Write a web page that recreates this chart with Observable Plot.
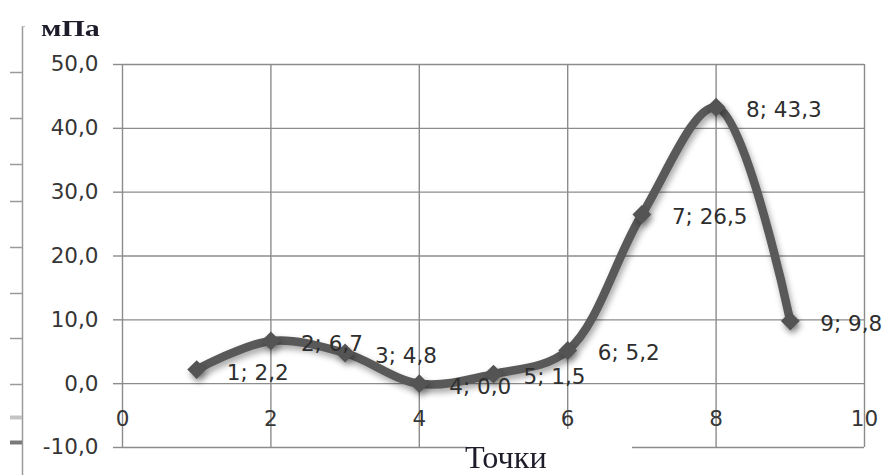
<!DOCTYPE html>
<html>
<head>
<meta charset="utf-8">
<script src="https://cdn.jsdelivr.net/npm/d3@7"></script>
<script src="https://cdn.jsdelivr.net/npm/@observablehq/plot@0.6"></script>
<style>
  html, body { margin: 0; padding: 0; background: #fff; }
  #wrap { position: relative; width: 884px; height: 475px; overflow: hidden; background: #fff; }
  #wrap svg { position: absolute; left: 0; top: 0; }
  .unit {
    position: absolute; left: 41px; top: 16px;
    font-family: "Liberation Serif", serif; font-weight: bold; font-size: 24px;
    color: #1c1c2a; transform-origin: left top; transform: scaleX(1.25);
    line-height: 1;
  }
  .xtitle {
    position: absolute; left: 467px; top: 429px; width: 165px; height: 46px;
    background: #fff;
    font-family: "Liberation Serif", serif; font-size: 31px; color: #1c1c2a;
    line-height: 1;
  }
  .xtitle span { position: absolute; left: -2px; top: 13px; transform-origin: left top; transform: scaleX(1.04); }
  .line-shadow path { filter: drop-shadow(2px 4px 3px rgba(0,0,0,0.35)); }
</style>
</head>
<body>
<div id="wrap"></div>
<script>
// Measurement points and their values (mPa)
const points = [1, 2, 3, 4, 5, 6, 7, 8, 9];
const values = [2.2, 6.7, 4.8, 0.0, 1.5, 5.2, 26.5, 43.3, 9.8];

// Axis ticks
const xTicks = [0, 2, 4, 6, 8, 10];
const yTicks = [-10, 0, 10, 20, 30, 40, 50];

// Titles
const yUnit = "мПа";
const xTitle = "Точки";

// Axis stub at the left edge (pixel rows of its tick marks)
const stubTicks = [72, 118, 164, 201, 247, 293, 338, 384];
const stubMarks = [417, 442];

const data = points.map((p, i) => ({x: p, y: values[i]}));
const comma = d => d.toFixed(1).replace(".", ",");
const gridColor = "#8c8c8c";
const lineColor = "#595959";
const textColor = "#363636";

const chart = Plot.plot({
  width: 884,
  height: 475,
  marginLeft: 122,
  marginRight: 20,
  marginTop: 64,
  marginBottom: 28,
  style: {fontFamily: "'DejaVu Sans', sans-serif", fontSize: "21.5px", color: textColor, background: "transparent"},
  x: {domain: [0, 10], axis: null},
  y: {domain: [-10, 50], axis: null},
  marks: [
    Plot.gridX(xTicks, {stroke: gridColor, strokeOpacity: 1, strokeWidth: 1.4}),
    Plot.gridY(yTicks, {stroke: gridColor, strokeOpacity: 1, strokeWidth: 1.4}),
    Plot.axisY(yTicks, {
      tickSize: 9, tickPadding: 15, tickFormat: comma,
      stroke: gridColor, strokeWidth: 1.4, fill: textColor, label: null
    }),
    Plot.text(xTicks, {x: d => d, y: 0, dy: 35, text: d => String(d), fill: textColor}),
    Plot.line(data, {x: "x", y: "y", curve: "catmull-rom", stroke: lineColor, strokeWidth: 8.5, className: "line-shadow"}),
    Plot.dot(data, {x: "x", y: "y", symbol: "diamond2", r: 8.5, fill: "#545454", stroke: "none", className: "line-shadow"}),
    Plot.text(data, {
      x: "x", y: "y", dx: 30, dy: 3, textAnchor: "start",
      text: d => `${d.x}; ${comma(d.y)}`, fill: "#2e2e2e"
    })
  ]
});

// Left-edge axis stub
const stub = Plot.plot({
  width: 30,
  height: 475,
  margin: 0,
  style: {background: "transparent"},
  x: {type: "identity", axis: null},
  y: {type: "identity", axis: null},
  marks: [
    Plot.ruleX([22], {y1: 26, y2: 475, stroke: "#9a9a9a", strokeWidth: 1.5}),
    Plot.ruleY([26], {x1: 22, x2: 25, stroke: "#bdbdbd", strokeWidth: 1.2}),
    Plot.ruleY(stubTicks, {x1: 10, x2: 22, stroke: "#9a9a9a", strokeWidth: 1.5}),
    Plot.ruleY(stubMarks, {x1: 10, x2: 22, stroke: (d, i) => i ? "#7a7a7a" : "#c4c4c4", strokeWidth: 4})
  ]
});

const wrap = document.getElementById("wrap");
wrap.appendChild(chart);
wrap.appendChild(stub);

const unit = document.createElement("div");
unit.className = "unit";
unit.textContent = yUnit;
wrap.appendChild(unit);

const xt = document.createElement("div");
xt.className = "xtitle";
const span = document.createElement("span");
span.textContent = xTitle;
xt.appendChild(span);
wrap.appendChild(xt);
</script>
</body>
</html>
